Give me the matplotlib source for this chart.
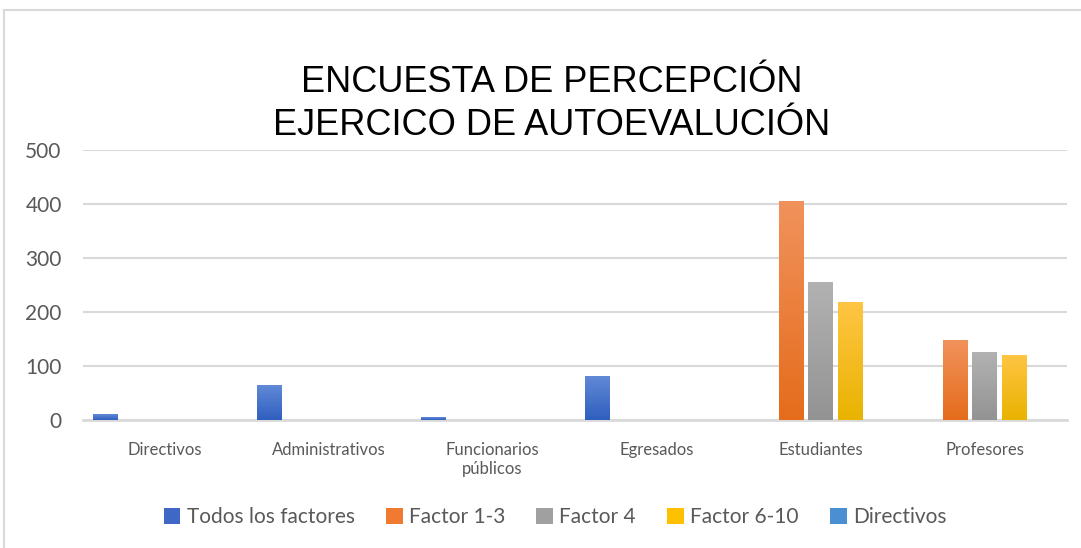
import numpy as np
import matplotlib
matplotlib.use("Agg")
import matplotlib.pyplot as plt
from matplotlib.patches import Patch
from matplotlib.colors import LinearSegmentedColormap
from matplotlib.lines import Line2D

categories = ["Directivos", "Administrativos", "Funcionarios\npúblicos",
              "Egresados", "Estudiantes", "Profesores"]
series_names = ["Todos los factores", "Factor 1-3", "Factor 4", "Factor 6-10", "Directivos"]
todos = [10, 64, 5, 81, 0, 0]
factor_1_3 = [0, 0, 0, 0, 405, 148]
factor_4 = [0, 0, 0, 0, 256, 126]
factor_6_10 = [0, 0, 0, 0, 219, 121]
directivos = [0, 0, 0, 0, 0, 0]
yticks = [0, 100, 200, 300, 400, 500]

# top / bottom colours of the gradient fill
grad = [("#6189d6", "#2f5fbf"),
        ("#f1925c", "#e56c1b"),
        ("#b2b2b2", "#939393"),
        ("#ffc544", "#e9b300"),
        ("#6ea6dc", "#3f86c9")]
legend_cols = ["#3f68c6", "#ef7a30", "#a0a0a0", "#ffc000", "#4a8fd2"]

plt.rcParams['font.family'] = ['Lato', 'DejaVu Sans']
fig = plt.figure(figsize=(10.81, 5.48), dpi=100)
ax = fig.add_axes([82.5 / 1081, 128.3 / 548, 984 / 1081, 269.4 / 548])

data = [todos, factor_1_3, factor_4, factor_6_10, directivos]
x = np.arange(len(categories))
slot = 0.18
bw = 0.152
grid = np.linspace(1, 0, 256).reshape(-1, 1)
for k, vals in enumerate(data):
    cmap = LinearSegmentedColormap.from_list("g%d" % k, [grad[k][1], grad[k][0]])
    bars = ax.bar(x + (k - 2) * slot, vals, bw, color="none", linewidth=0, zorder=3)
    for b in bars:
        h = b.get_height()
        if h <= 0:
            continue
        x0 = b.get_x()
        im = ax.imshow(grid, cmap=cmap, aspect="auto", extent=[x0, x0 + bw, 0, h],
                       zorder=3, interpolation="bilinear")
        im.set_clip_path(b)

ax.set_xlim(-0.5, len(categories) - 0.5)
ax.set_ylim(0, 500)
ax.set_yticks(yticks)
ax.set_xticks(x)
ax.set_xticklabels(categories, fontsize=12, color="#595959", linespacing=1.25)
ax.tick_params(axis="y", length=0, pad=15, labelsize=15, labelcolor="#595959")
ax.tick_params(axis="x", length=0, pad=16)
ax.grid(axis="y", color="#d9d9d9", linewidth=1.5, zorder=0)
for s in ["top", "right", "left"]:
    ax.spines[s].set_visible(False)
ax.spines["bottom"].set_color("#d9d9d9")
ax.spines["bottom"].set_linewidth(2)
ax.spines["bottom"].set_zorder(2)

fig.text(552 / 1081, 1 - 104 / 548, "ENCUESTA DE PERCEPCIÓN\nEJERCICO DE AUTOEVALUCIÓN",
         ha="center", va="center", fontsize=26, color="#000000", linespacing=1.3,
         family=['Liberation Sans Narrow', 'Liberation Sans', 'DejaVu Sans'])

handles = [Patch(facecolor=c, edgecolor="none") for c in legend_cols]
fig.legend(handles, series_names, loc="center", bbox_to_anchor=(555 / 1081, 1 - 517 / 548),
           ncol=5, frameon=False, fontsize=15, handlelength=0.8, handleheight=0.8,
           handletextpad=0.3, columnspacing=1.5, labelcolor="#595959")

# chart frame
fig.add_artist(Line2D([4 / 1081, 4 / 1081], [0, 1 - 10 / 548], transform=fig.transFigure,
                      color="#d9d9d9", linewidth=1.5))
fig.add_artist(Line2D([4 / 1081, 1], [1 - 10 / 548, 1 - 10 / 548], transform=fig.transFigure,
                      color="#d9d9d9", linewidth=1.5))

fig.savefig("out.png", dpi=100)
